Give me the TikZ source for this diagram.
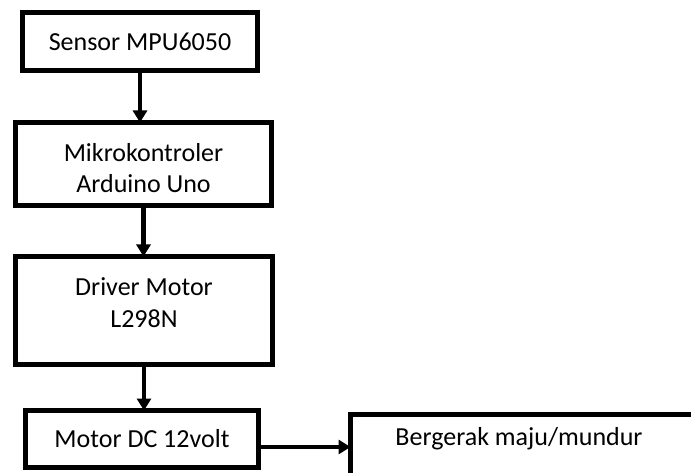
\documentclass[tikz,border=0pt]{standalone}
\usepackage{fontspec}
\setmainfont{Carlito}
\usetikzlibrary{arrows.meta}
\begin{document}
\begin{tikzpicture}[x=1pt,y=-1pt,
  box/.style={draw=black, fill=white, line width=5pt, inner sep=0pt, outer sep=0pt},
  lbl/.style={align=center, font=\fontsize{26}{31.7}\selectfont, inner sep=0pt},
  arr/.style={line width=4.5pt, -{Triangle[width=14pt,length=12pt]}}]
\clip (0,0) rectangle (691,473);
\fill[white] (0,0) rectangle (691,473);
\node[box, minimum width=235pt, minimum height=58pt, font=\fontsize{26}{31.7}\selectfont] (b1) at (140,41.5) {Sensor MPU6050};
\node[box, minimum width=256pt, minimum height=83pt,
  label={[lbl, yshift=-4pt]center:{Mikrokontroler\\Arduino Uno}}] (b2) at (143.5,164) {};
\node[box, minimum width=257pt, minimum height=108pt,
  label={[lbl, yshift=8pt]center:{Driver Motor\\L298N}}] (b3) at (144,310.5) {};
\node[box, minimum width=233pt, minimum height=57pt, font=\fontsize{26}{31.7}\selectfont] (b4) at (142,439) {Motor DC 12volt};
\node[box, minimum width=350pt, minimum height=80pt,
  label={[lbl, xshift=-6.5pt, yshift=16pt]center:{Bergerak maju/mundur}}] (b5) at (525.5,454.5) {};
\draw[arr] (b1.south) -- (b1.south |- b2.north);
\draw[arr] (b2.south) -- (b2.south |- b3.north);
\draw[arr] (b3.south) -- (b3.south |- b4.north);
\draw[arr] ([yshift=-8pt]b4.east) -- ([yshift=-8pt]b4.east -| b5.west);
\end{tikzpicture}
\end{document}
